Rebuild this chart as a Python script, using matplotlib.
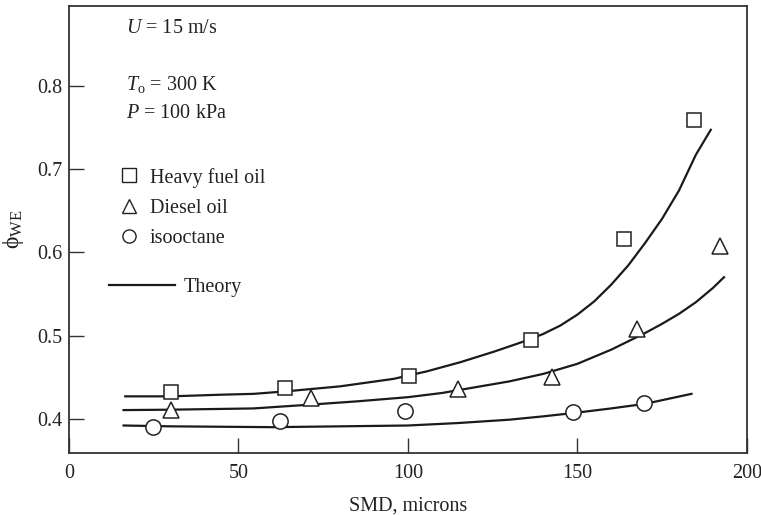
import matplotlib
matplotlib.use("Agg")
import matplotlib.pyplot as plt
from matplotlib.lines import Line2D

plt.rcParams['font.family'] = ['Liberation Serif', 'DejaVu Serif']
plt.rcParams['mathtext.fontset'] = 'custom'
plt.rcParams['mathtext.rm'] = 'Liberation Serif'
plt.rcParams['mathtext.it'] = 'Liberation Serif:italic'

# Measured data
hfo_x = [30.1, 63.7, 100.4, 136.4, 163.9, 184.4]
hfo_y = [0.432, 0.437, 0.452, 0.495, 0.616, 0.759]
dsl_x = [30.0, 71.3, 114.8, 142.5, 167.6, 192.0]
dsl_y = [0.411, 0.425, 0.436, 0.450, 0.508, 0.607]
iso_x = [24.8, 62.3, 99.3, 148.6, 169.6]
iso_y = [0.390, 0.397, 0.409, 0.4085, 0.419]

# Theory curves
th_hfo_x = [16.6, 30, 45, 54.5, 64, 80, 95.8, 105.6, 115.5, 125.3, 130, 135, 140, 145,
            150, 155, 160, 165, 170, 175, 180, 185, 189.4]
th_hfo_y = [0.427, 0.427, 0.429, 0.430, 0.433, 0.439, 0.448, 0.457, 0.468, 0.4805, 0.487, 0.494, 0.502, 0.512,
            0.525, 0.541, 0.561, 0.584, 0.611, 0.640, 0.674, 0.717, 0.747]
th_dsl_x = [16.1, 30, 54.5, 71, 85, 100, 110, 120, 130, 140, 150, 160, 165, 170, 175, 180, 185, 190, 193.3]
th_dsl_y = [0.4105, 0.411, 0.4125, 0.417, 0.421, 0.426, 0.431, 0.438, 0.445, 0.454, 0.466, 0.483, 0.493,
            0.503, 0.514, 0.526, 0.540, 0.557, 0.570]
th_iso_x = [16.1, 30, 60, 100, 115, 130, 140, 150, 160, 170, 183.7]
th_iso_y = [0.392, 0.391, 0.390, 0.392, 0.395, 0.399, 0.403, 0.4075, 0.4125, 0.418, 0.430]

xticks = [0, 50, 100, 150, 200]
yticks = [0.4, 0.5, 0.6, 0.7, 0.8]

FS = 14.5
fig = plt.figure(figsize=(7.61, 5.15), dpi=100)
ax = fig.add_axes([0.0907, 0.1204, 0.8905, 0.8686])

lc = '#1a1a1a'
for x, y in [(th_hfo_x, th_hfo_y), (th_dsl_x, th_dsl_y), (th_iso_x, th_iso_y)]:
    ax.plot(x, y, color=lc, lw=1.6, zorder=2, solid_joinstyle='round')

mk = dict(linestyle='none', markerfacecolor='white', markeredgecolor='#222222', markeredgewidth=1.1, zorder=3)
ax.plot(hfo_x, hfo_y, marker='s', markersize=10.5, **mk)
ax.plot(dsl_x, dsl_y, marker='^', markersize=11, **mk)
ax.plot(iso_x, iso_y, marker='o', markersize=11, **mk)

ax.set_xlim(0, 200)
ax.set_ylim(0.359, 0.896)
ax.set_xticks(xticks)
ax.set_xticklabels([str(t) for t in xticks])
ax.set_yticks(yticks)
ax.set_yticklabels([f"{t:.1f}" for t in yticks])
ax.tick_params(direction='in', length=11, width=1.0, colors='#333333', labelcolor='#222222', labelsize=FS)
ax.tick_params(axis='x', pad=8)
ax.tick_params(axis='y', pad=5)
for s in ax.spines.values():
    s.set_color('#333333')
    s.set_linewidth(1.3)

ax.set_xlabel('SMD, microns', fontsize=FS, color='#222222', labelpad=10)
ax.set_ylabel('\u03d5$_{\\rm WE}$', fontsize=17, color='#222222')
ax.yaxis.set_label_coords(-0.064, 0.50)

tk = dict(transform=ax.transAxes, fontsize=FS, color='#222222', va='center', ha='left')
ax.text(0.0845, 0.950, '$U$ = 15 m/s', **tk)
ax.text(0.0845, 0.823, '$T_{\\rm o}$ = 300 K', **tk)
ax.text(0.0845, 0.760, '$P$ = 100 kPa', **tk)

mh = dict(linestyle='none', markerfacecolor='white', markeredgecolor='#222222', markeredgewidth=1.0, markersize=9.5)
handles = [Line2D([], [], marker='s', **mh), Line2D([], [], marker='^', **mh), Line2D([], [], marker='o', **mh)]
leg1 = ax.legend(handles, ['Heavy fuel oil', 'Diesel oil', 'isooctane'], loc='upper left',
                 bbox_to_anchor=(0.0772, 0.638), frameon=False, fontsize=FS, handlelength=0.8,
                 handletextpad=0.6, labelspacing=0.55, borderpad=0, borderaxespad=0)
for t in leg1.get_texts():
    t.set_color('#222222')
ax.add_artist(leg1)
leg2 = ax.legend([Line2D([], [], color=lc, lw=1.6)], ['Theory'], loc='upper left',
                 bbox_to_anchor=(0.0595, 0.392), frameon=False, fontsize=FS, handlelength=3.27,
                 handletextpad=0.41, borderpad=0, borderaxespad=0)
for t in leg2.get_texts():
    t.set_color('#222222')

fig.savefig('out.png', dpi=100)
